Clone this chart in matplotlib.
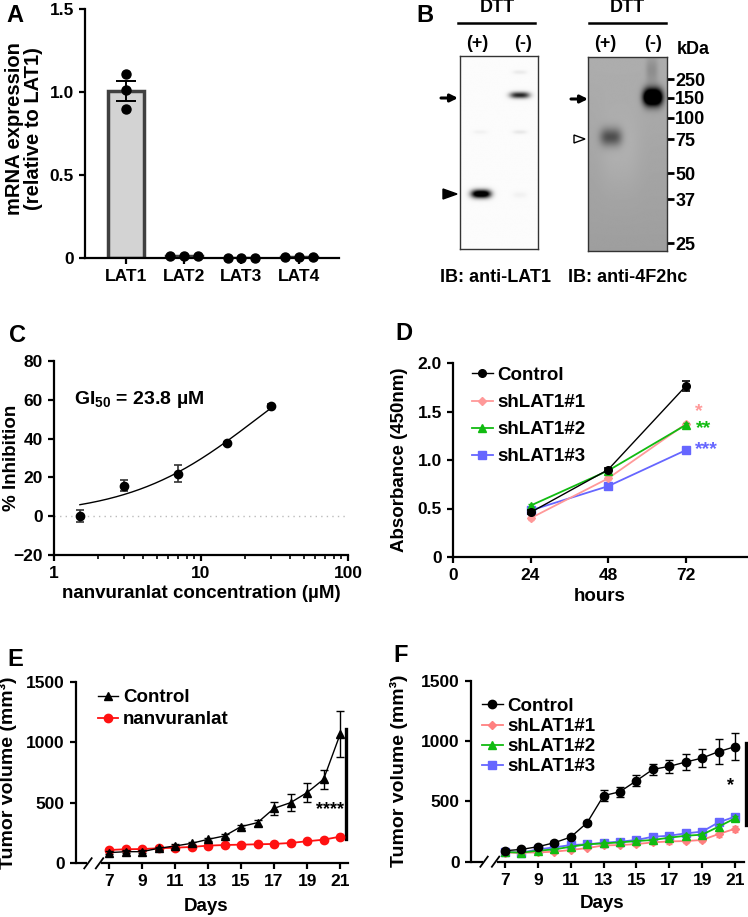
import numpy as np
import matplotlib
matplotlib.use('Agg')
import matplotlib.pyplot as plt
from matplotlib.patches import Polygon

plt.rcParams['font.family'] = ['Liberation Sans', 'DejaVu Sans']
plt.rcParams['font.weight'] = 'bold'
plt.rcParams['axes.labelweight'] = 'bold'
plt.rcParams['mathtext.fontset'] = 'custom'
plt.rcParams['mathtext.rm'] = 'Liberation Sans:bold'
plt.rcParams['mathtext.default'] = 'rm'
plt.rcParams['axes.linewidth'] = 1.6
plt.rcParams['xtick.major.width'] = 1.6
plt.rcParams['ytick.major.width'] = 1.6
plt.rcParams['xtick.minor.width'] = 1.2
plt.rcParams['ytick.minor.width'] = 1.2
plt.rcParams['xtick.major.size'] = 4.5
plt.rcParams['ytick.major.size'] = 4.5
plt.rcParams['xtick.minor.size'] = 3
plt.rcParams['xtick.labelsize'] = 12.5
plt.rcParams['ytick.labelsize'] = 12.5
plt.rcParams['axes.labelsize'] = 13

# ---------------- data ----------------
# A
genes = ['LAT1', 'LAT2', 'LAT3', 'LAT4']
mrna_rep1 = [1.11, 0.015, 0.0, 0.005]
mrna_rep2 = [1.01, 0.015, 0.0, 0.005]
mrna_rep3 = [0.90, 0.015, 0.0, 0.005]
mrna_sem = [0.06, 0.002, 0.001, 0.001]

# B
blot_lanes = ['(+)', '(-)']
marker_kda = ['250', '150', '100', '75', '50', '37', '25']
lat1_band_int = [1.0, 0.85]      # (+) 37 kDa monomer, (-) ~150 kDa complex
hc_band_int = [0.38, 0.75]       # (+) 75 kDa 4F2hc, (-) ~150 kDa complex

# C
conc = [1.5, 3.0, 7.0, 15.0, 30.0]
inhib = [0.0, 15.8, 22.0, 37.5, 57.0]
inhib_err = [3.0, 2.7, 4.5, 1.0, 1.0]
gi50 = 23.8
hill = 1.0

# D
hours = [24, 48, 72]
abs_control = [0.46, 0.90, 1.76]
abs_sh1 = [0.40, 0.81, 1.37]
abs_sh2 = [0.53, 0.89, 1.36]
abs_sh3 = [0.48, 0.73, 1.10]
abs_control_err = [0.02, 0.02, 0.05]
abs_sh_err = [0.02, 0.02, 0.02]

# E
days = [7, 8, 9, 10, 11, 12, 13, 14, 15, 16, 17, 18, 19, 20, 21]
e_control = [88, 96, 96, 124, 143, 165, 198, 226, 303, 336, 454, 501, 584, 694, 1065]
e_control_err = [10, 10, 10, 12, 15, 15, 15, 20, 15, 25, 55, 70, 80, 78, 190]
e_nanv = [110, 116, 118, 124, 129, 135, 146, 151, 154, 157, 160, 168, 182, 195, 220]
e_nanv_err = [8, 8, 8, 8, 8, 8, 10, 10, 10, 10, 10, 12, 12, 15, 18]

# F
f_control = [91, 102, 124, 157, 204, 323, 547, 580, 671, 765, 790, 826, 859, 912, 953]
f_control_err = [10, 10, 10, 12, 15, 15, 45, 40, 45, 45, 55, 68, 75, 105, 110]
f_sh1 = [75, 75, 77, 83, 97, 113, 135, 138, 146, 160, 168, 171, 180, 229, 273]
f_sh1_err = [5, 5, 5, 8, 10, 10, 12, 12, 15, 15, 18, 20, 20, 22, 25]
f_sh2 = [80, 75, 91, 102, 124, 144, 152, 160, 171, 180, 199, 215, 224, 290, 359]
f_sh2_err = [5, 5, 8, 8, 10, 10, 10, 12, 12, 12, 15, 15, 15, 20, 22]
f_sh3 = [83, 75, 102, 119, 138, 144, 157, 166, 180, 207, 215, 235, 249, 326, 373]
f_sh3_err = [5, 5, 8, 8, 10, 10, 10, 12, 12, 12, 15, 15, 15, 20, 22]

PINK = '#ff9999'
GREEN = '#11bb11'
BLUE = '#6666ff'
RED = '#ff1111'

W, H = 748, 917
fig = plt.figure(figsize=(W / 100, H / 100), dpi=100)


def ax_px(x0, y_top, x1, y_bot):
    return fig.add_axes([x0 / W, 1 - y_bot / H, (x1 - x0) / W, (y_bot - y_top) / H])


def style(ax):
    for s in ['top', 'right']:
        ax.spines[s].set_visible(False)
    ax.tick_params(direction='out')


def ftext(x, y, s, **kw):
    fig.text(x / W, 1 - y / H, s, ha='center', va='center', **kw)


# ---------------- A ----------------
axA = ax_px(85, 9, 339, 258)
style(axA)
xpos = np.arange(len(genes))
means = np.mean([mrna_rep1, mrna_rep2, mrna_rep3], axis=0)
axA.bar(xpos, means, width=0.62, color='#d3d3d3', edgecolor='#404040', linewidth=2.5, zorder=1)
axA.errorbar(xpos[:1], means[:1], yerr=mrna_sem[:1], fmt='none', ecolor='k', elinewidth=1.4,
             capsize=7, capthick=1.4, zorder=3)
for off, rep in zip([-0.24, 0.0, 0.24], [mrna_rep1, mrna_rep2, mrna_rep3]):
    xs = xpos + np.where(xpos == 0, 0.0, off)
    axA.plot(xs, rep, 'o', color='k', ms=6.5, zorder=4, clip_on=False)
axA.set_xlim(-0.71, 3.69)
axA.set_ylim(0, 1.5)
axA.set_yticks([0, 0.5, 1.0, 1.5])
axA.set_yticklabels(['0', '0.5', '1.0', '1.5'])
axA.set_xticks(xpos)
axA.set_xticklabels(genes)
axA.set_ylabel('mRNA expression\n(relative to LAT1)', linespacing=1.0, fontsize=14.5)
axA.yaxis.set_label_coords(-0.165, 0.52)

# ---------------- B ----------------
def blot(ax, x0, x1, yt, yb, bg, bands, grad=0.0):
    xs = np.linspace(x0, x1, 160)
    ys = np.linspace(yt, yb, 400)
    X, Y = np.meshgrid(xs, ys)
    img = bg + grad * (Y - yt) / (yb - yt)
    for bx, by, sx, sy, amp in bands:
        img = img - amp * np.exp(-(np.abs(X - bx) / sx) ** 3 - ((Y - by) / sy) ** 2)
    img = np.clip(img, 0, 1)
    ax.imshow(img, cmap='gray', vmin=0, vmax=1, extent=(x0, x1, yb, yt), aspect='auto',
              interpolation='bilinear')
    ax.set_xlim(x0, x1)
    ax.set_ylim(yb, yt)
    for s in ax.spines.values():
        s.set_linewidth(1.0)
        s.set_color('#333333')


axB1 = ax_px(460, 56, 538, 249)
bands1 = [(481, 194, 10, 4.2, lat1_band_int[0] + 0.3), (520, 95, 10, 3.2, lat1_band_int[1]),
          (520, 72, 7, 2, 0.07), (520, 132, 7, 2, 0.08), (480, 132, 7, 2, 0.04), (520, 195, 7, 3, 0.04)]
blot(axB1, 460, 538, 56, 249, 0.985, bands1)
axB1.set_xticks([])
axB1.set_yticks([])

axB2 = ax_px(588, 57, 667, 251)
bands2 = [(653, 97, 9.5, 8.5, hc_band_int[1] + 0.6), (652, 70, 6, 14, 0.12),
          (611, 137, 11, 9, hc_band_int[0]), (620, 150, 20, 40, -0.04)]
blot(axB2, 588, 667, 57, 251, 0.68, bands2, grad=-0.06)
axB2.set_xticks([])
axB2.yaxis.tick_right()
axB2.set_yticks([79, 98, 118, 139, 173, 199, 243])
axB2.set_yticklabels(marker_kda)
axB2.tick_params(axis='y', length=5, width=2, labelsize=13, pad=1)

for cx, lx in [(497, (458, 535)), (627, (589, 666))]:
    ftext(cx, 8, 'DTT', fontsize=13, fontweight='bold')
    fig.add_artist(plt.Line2D([lx[0] / W, lx[1] / W], [1 - 23 / H, 1 - 23 / H], color='k', lw=1.8))
for lx, lab in zip([477, 523], blot_lanes):
    ftext(lx, 43, lab, fontsize=13, fontweight='bold')
for lx, lab in zip([605, 653], blot_lanes):
    ftext(lx, 43, lab, fontsize=13, fontweight='bold')
ftext(693, 49, 'kDa', fontsize=13, fontweight='bold')
ftext(495, 277, 'IB: anti-LAT1', fontsize=13, fontweight='bold')
ftext(628, 277, 'IB: anti-4F2hc', fontsize=13, fontweight='bold')

axBo = fig.add_axes([0, 0, 1, 1], facecolor='none')
axBo.set_xlim(0, W)
axBo.set_ylim(H, 0)
axBo.axis('off')
for (xa, xb, y) in [(441, 458, 98), (571, 588, 99)]:
    axBo.annotate('', xy=(xb, y), xytext=(xa, y),
                  arrowprops=dict(arrowstyle='-|>', lw=2.2, color='k', mutation_scale=11,
                                  shrinkA=0, shrinkB=0))
axBo.add_patch(Polygon([(443, 189), (443, 199), (457, 194)], closed=True, color='k'))
axBo.add_patch(Polygon([(574, 135), (574, 143), (585, 139)], closed=True, facecolor='white',
                       edgecolor='k', lw=1.0))

# ---------------- C ----------------
axC = ax_px(54, 361, 348, 555)
style(axC)
axC.set_xscale('log')
axC.set_xlim(1, 100)
axC.set_ylim(-20, 80)
axC.set_yticks([-20, 0, 20, 40, 60, 80])
axC.set_xticks([1, 10, 100])
axC.set_xticklabels(['1', '10', '100'])
axC.axhline(0, color='#bbbbbb', lw=1.0, ls=(0, (1, 3)), zorder=0)
xc = np.logspace(np.log10(conc[0]), np.log10(conc[-1]), 200)
axC.plot(xc, 100 / (1 + (gi50 / xc) ** hill), color='k', lw=1.0)
axC.errorbar(conc, inhib, yerr=inhib_err, fmt='o', color='k', ms=6, elinewidth=1.2, capsize=3,
             capthick=1.2, ecolor='#333333')
axC.text(1.36, 60, 'GI$_{50}$ = 23.8 µM', fontsize=14, va='center', ha='left')
axC.set_xlabel('nanvuranlat concentration (µM)', fontsize=13.5)
axC.set_ylabel('% Inhibition', fontsize=13.5)
axC.xaxis.set_label_coords(0.5, -0.155)
axC.yaxis.set_label_coords(-0.115, 0.5)

# ---------------- D ----------------
axD = ax_px(453, 363, 747, 557)
style(axD)
cD = []
cD.append(axD.errorbar(hours, abs_control, yerr=abs_control_err, fmt='-o', color='k', ms=5.5, lw=1.0,
                       capsize=3, capthick=1.2, zorder=5))
cD.append(axD.errorbar(hours, abs_sh1, yerr=abs_sh_err, fmt='-D', color=PINK, ms=4.5, lw=1.3,
                       capsize=2, zorder=3))
cD.append(axD.errorbar(hours, abs_sh2, yerr=abs_sh_err, fmt='-^', color=GREEN, ms=6, lw=1.3,
                       capsize=2, zorder=4))
cD.append(axD.errorbar(hours, abs_sh3, yerr=abs_sh_err, fmt='-s', color=BLUE, ms=6, lw=1.3,
                       capsize=2, zorder=2))
axD.set_xlim(0, 91)
axD.set_ylim(0, 2.0)
axD.set_xticks([0, 24, 48, 72])
axD.set_yticks([0, 0.5, 1.0, 1.5, 2.0])
axD.set_yticklabels(['0', '0.5', '1.0', '1.5', '2.0'])
axD.text(76.0, 1.50, '*', color=PINK, fontsize=14, ha='center', va='center')
axD.text(77.5, 1.32, '**', color=GREEN, fontsize=14, ha='center', va='center')
axD.text(78.5, 1.11, '***', color=BLUE, fontsize=14, ha='center', va='center')
axD.set_xlabel('hours', fontsize=13.5)
axD.set_ylabel('Absorbance (450nm)', fontsize=13.5)
axD.xaxis.set_label_coords(0.5, -0.16)
axD.yaxis.set_label_coords(-0.153, 0.5)
axD.legend([c.lines[0] for c in cD], ['Control', 'shLAT1#1', 'shLAT1#2', 'shLAT1#3'],
           loc='upper left', bbox_to_anchor=(0.065, 0.98), frameon=False, fontsize=13.5,
           handlelength=1.1, handletextpad=0.25, labelspacing=0.53, borderpad=0,
           borderaxespad=0)


# ---------------- E / F ----------------
def broken_x(ax, xleft, s1, s2, xstart):
    tr = ax.get_xaxis_transform()
    ax.spines['bottom'].set_bounds(xstart, ax.get_xlim()[1])
    ax.plot([xleft, s1[0] + 0.15], [0, 0], color='k', lw=1.6, transform=tr, clip_on=False,
            solid_capstyle='butt')
    for a, b in (s1, s2):
        ax.plot([a, b], [-0.028, 0.028], color='k', lw=1.3, transform=tr, clip_on=False)


axE = ax_px(76, 681.7, 348, 863.3)
style(axE)
axE.set_xlim(5.0, 21.48)
axE.set_ylim(0, 1500)
cE1 = axE.errorbar(days, e_control, yerr=e_control_err, fmt='-^', color='k', ms=6, lw=1.0,
                   capsize=3, capthick=1.0, elinewidth=1.0, zorder=4)
cE2 = axE.errorbar(days, e_nanv, yerr=e_nanv_err, fmt='-o', color=RED, ms=6, lw=1.3,
                   capsize=2, zorder=3)
axE.set_xticks(range(7, 22, 2))
axE.set_yticks([0, 500, 1000, 1500])
broken_x(axE, 5.0, (5.5, 5.95), (6.2, 6.65), 6.6)
axE.plot([21.36, 21.36], [201, 1109], color='k', lw=2.4, clip_on=False)
axE.text(20.4, 445, '****', fontsize=13, ha='center', va='center')
axE.set_xlabel('Days', fontsize=13.5)
axE.set_ylabel('Tumor volume (mm³)', fontsize=14)
axE.xaxis.set_label_coords(0.48, -0.19)
axE.yaxis.set_label_coords(-0.217, 0.5)
axE.legend([cE1.lines[0], cE2.lines[0]], ['Control', 'nanvuranlat'], loc='upper left',
           bbox_to_anchor=(0.08, 0.96), frameon=False, fontsize=13.5,
           handlelength=1.1, handletextpad=0.25, labelspacing=0.28, borderpad=0, borderaxespad=0)

axF = ax_px(471, 680.7, 744, 861.7)
style(axF)
axF.set_xlim(4.93, 21.55)
axF.set_ylim(0, 1500)
cF1 = axF.errorbar(days, f_sh1, yerr=f_sh1_err, fmt='-D', color='#ff8080', ms=4.5, lw=1.3,
                   capsize=2, zorder=3)
cF2 = axF.errorbar(days, f_sh2, yerr=f_sh2_err, fmt='-^', color=GREEN, ms=6, lw=1.3,
                   capsize=2, zorder=4)
cF3 = axF.errorbar(days, f_sh3, yerr=f_sh3_err, fmt='-s', color=BLUE, ms=6, lw=1.3,
                   capsize=2, zorder=2)
cF0 = axF.errorbar(days, f_control, yerr=f_control_err, fmt='-o', color='k', ms=6, lw=1.0,
                   capsize=3, capthick=1.0, elinewidth=1.0, zorder=5)
axF.set_xticks(range(7, 22, 2))
axF.set_yticks([0, 500, 1000, 1500])
broken_x(axF, 4.93, (5.5, 5.95), (6.2, 6.65), 6.6)
axF.plot([21.67, 21.67], [305, 984], color='k', lw=2.4, clip_on=False)
axF.text(20.7, 630, '*', fontsize=13, ha='center', va='center')
axF.set_xlabel('Days', fontsize=13.5)
axF.set_ylabel('Tumor volume (mm³)', fontsize=14)
axF.xaxis.set_label_coords(0.48, -0.184)
axF.yaxis.set_label_coords(-0.23, 0.5)
axF.legend([c.lines[0] for c in (cF0, cF1, cF2, cF3)], ['Control', 'shLAT1#1', 'shLAT1#2', 'shLAT1#3'],
           loc='upper left', bbox_to_anchor=(0.04, 0.905), frameon=False, fontsize=13.5,
           handlelength=1.1, handletextpad=0.25, labelspacing=0.16, borderpad=0, borderaxespad=0)

# panel letters
for (x, y, s) in [(15, 15, 'A'), (425, 15, 'B'), (17, 335, 'C'), (404, 333, 'D'),
                  (15, 660, 'E'), (401, 655, 'F')]:
    ftext(x, y, s, fontsize=17, fontweight='bold')

fig.savefig('out.png', dpi=100)
